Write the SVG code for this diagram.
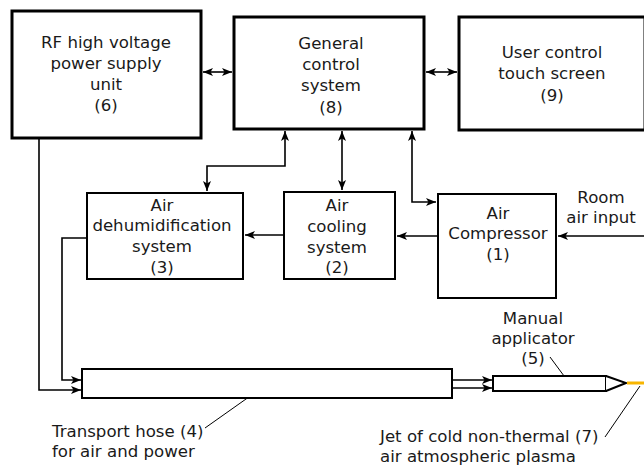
<svg xmlns="http://www.w3.org/2000/svg" width="644" height="466" viewBox="0 0 644 466">
<defs>
<marker id="ah" viewBox="0 0 10 8" refX="10" refY="4" markerWidth="10" markerHeight="8" markerUnits="userSpaceOnUse" orient="auto-start-reverse">
<path d="M0,0 L10,4 L0,8 L2.5,4 z" fill="#000"/>
</marker>
</defs>
<style>
text{font-family:"DejaVu Sans","Verdana",sans-serif;font-size:16.6px;fill:#1a1a1a}
.c{text-anchor:middle}
.thick{fill:#fff;stroke:#000;stroke-width:3}
.thin{fill:#fff;stroke:#000;stroke-width:2}
.ln{fill:none;stroke:#000;stroke-width:1.6}
.lead{fill:none;stroke:#000;stroke-width:1}
</style>
<rect width="644" height="466" fill="#fff"/>
<g id="connectors">
<line class="ln" x1="203" y1="72" x2="232" y2="72" marker-start="url(#ah)" marker-end="url(#ah)"/>
<line class="ln" x1="426" y1="72" x2="457" y2="72" marker-start="url(#ah)" marker-end="url(#ah)"/>
<polyline class="ln" points="285,131 285,166 207,166 207,191" marker-start="url(#ah)" marker-end="url(#ah)"/>
<line class="ln" x1="342" y1="131" x2="342" y2="190" marker-start="url(#ah)" marker-end="url(#ah)"/>
<polyline class="ln" points="412,131 412,202 436,202" marker-start="url(#ah)" marker-end="url(#ah)"/>
<line class="ln" x1="437" y1="236" x2="397" y2="236" marker-end="url(#ah)"/>
<line class="ln" x1="283" y1="235" x2="245" y2="235" marker-end="url(#ah)"/>
<line class="ln" x1="644" y1="236" x2="558" y2="236" marker-end="url(#ah)"/>
<polyline class="ln" points="39,139 39,390 81,390" marker-end="url(#ah)"/>
<polyline class="ln" points="87,238 62,238 62,380 81,380" marker-end="url(#ah)"/>
<line class="ln" x1="453" y1="380" x2="492" y2="380" marker-end="url(#ah)"/>
<line class="ln" x1="453" y1="388" x2="492" y2="388" marker-end="url(#ah)"/>
<line class="lead" x1="263" y1="387" x2="205" y2="428"/>
<line class="lead" x1="567" y1="380" x2="550" y2="357"/>
<line class="lead" x1="640" y1="386" x2="605" y2="437"/>
</g>
<g id="n6">
<rect class="thick" x="12" y="11" width="189" height="127"/>
<text class="c" x="106" y="48">RF high voltage</text>
<text class="c" x="106" y="69">power supply</text>
<text class="c" x="106" y="90">unit</text>
<text class="c" x="106" y="111">(6)</text>
</g>
<g id="n8">
<rect class="thick" x="234" y="17" width="190" height="112"/>
<text class="c" x="331" y="49">General</text>
<text class="c" x="331" y="70">control</text>
<text class="c" x="331" y="91">system</text>
<text class="c" x="331" y="113">(8)</text>
</g>
<g id="n9">
<rect class="thick" x="459" y="17" width="186" height="113"/>
<text class="c" x="552" y="58">User control</text>
<text class="c" x="552" y="79">touch screen</text>
<text class="c" x="552" y="101">(9)</text>
</g>
<g id="n3">
<rect class="thin" x="87" y="193" width="156" height="86"/>
<text class="c" x="162" y="211">Air</text>
<text class="c" x="162" y="231">dehumidification</text>
<text class="c" x="162" y="252">system</text>
<text class="c" x="162" y="273">(3)</text>
</g>
<g id="n2">
<rect class="thin" x="284" y="192" width="111" height="87"/>
<text class="c" x="337" y="211">Air</text>
<text class="c" x="337" y="232">cooling</text>
<text class="c" x="337" y="253">system</text>
<text class="c" x="337" y="273">(2)</text>
</g>
<g id="n1">
<rect class="thin" x="438" y="194" width="118" height="104"/>
<text class="c" x="498" y="219">Air</text>
<text class="c" x="498" y="239">Compressor</text>
<text class="c" x="498" y="260">(1)</text>
</g>
<g id="room">
<text class="c" x="601" y="203">Room</text>
<text class="c" x="601" y="223">air input</text>
</g>
<g id="n4">
<rect class="thin" x="82" y="369" width="370" height="29"/>
<text x="52" y="437">Transport hose (4)</text>
<text x="52" y="457">for air and power</text>
</g>
<g id="n5">
<rect class="thin" x="493" y="376" width="113" height="15"/>
<path d="M606,376 L626,383 L606,391" fill="#fff" stroke="#000" stroke-width="2"/>
<text class="c" x="533" y="324">Manual</text>
<text class="c" x="533" y="344">applicator</text>
<text class="c" x="533" y="364">(5)</text>
</g>
<g id="n7">
<line x1="627" y1="383" x2="644" y2="383" stroke="#f7b500" stroke-width="3"/>
<text x="380" y="442">Jet of cold non-thermal (7)</text>
<text x="380" y="462">air atmospheric plasma</text>
</g>
</svg>
